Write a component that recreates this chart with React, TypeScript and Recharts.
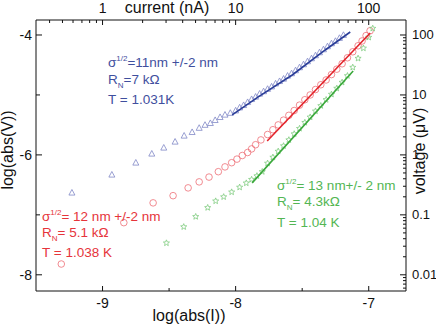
import React from "react";
import { ComposedChart, Scatter, XAxis, YAxis } from "recharts";

// all values are log10 of current (A) and voltage (V)
const blueTriangles: [number, number][] = [
  [-9.23, -6.63], [-8.93, -6.33], [-8.75, -6.13], [-8.63, -5.98], [-8.54, -5.88],
  [-8.455, -5.78], [-8.387, -5.68], [-8.327, -5.62], [-8.274, -5.55], [-8.23, -5.5],
  [-8.19, -5.47], [-8.154, -5.42], [-8.117, -5.37], [-8.08, -5.33], [-8.04, -5.3],
  [-8.0, -5.26], [-7.97, -5.21], [-7.94, -5.17], [-7.91, -5.12], [-7.88, -5.07],
  [-7.85, -5.03], [-7.82, -4.98], [-7.79, -4.94], [-7.76, -4.9], [-7.73, -4.86],
  [-7.7, -4.81], [-7.67, -4.77], [-7.64, -4.73], [-7.61, -4.68], [-7.58, -4.64],
  [-7.55, -4.59], [-7.52, -4.54], [-7.49, -4.49], [-7.46, -4.44], [-7.43, -4.39],
  [-7.4, -4.34], [-7.37, -4.29], [-7.34, -4.24], [-7.31, -4.19], [-7.28, -4.14],
  [-7.25, -4.1], [-7.22, -4.05], [-7.19, -4.0],
];
const blueFit: [number, number][] = [
  [-8.026, -5.333], [-7.83, -5.033], [-7.575, -4.667], [-7.327, -4.25], [-7.139, -3.95],
];

const redCircles: [number, number][] = [
  [-9.31, -7.82], [-8.84, -7.13], [-8.62, -6.8], [-8.47, -6.68], [-8.357, -6.55],
  [-8.274, -6.45], [-8.2, -6.37], [-8.13, -6.28], [-8.08, -6.2], [-8.03, -6.13],
  [-7.99, -6.07], [-7.95, -6.01], [-7.91, -5.96], [-7.88, -5.9], [-7.85, -5.83],
  [-7.81, -5.75], [-7.76, -5.66], [-7.72, -5.58], [-7.68, -5.5], [-7.64, -5.42],
  [-7.6, -5.34], [-7.56, -5.26], [-7.52, -5.17], [-7.48, -5.08], [-7.44, -5.0],
  [-7.4, -4.91], [-7.36, -4.83], [-7.32, -4.75], [-7.28, -4.66], [-7.24, -4.57],
  [-7.2, -4.48], [-7.16, -4.38], [-7.12, -4.28], [-7.08, -4.18], [-7.05, -4.1],
  [-7.02, -4.01], [-6.99, -3.93],
];
const redFit: [number, number][] = [[-7.763, -5.767], [-6.989, -3.967]];

const greenStars: [number, number][] = [
  [-8.52, -7.47], [-8.39, -7.2], [-8.3, -7.03], [-8.21, -6.88], [-8.15, -6.77],
  [-8.09, -6.7], [-8.03, -6.62], [-7.97, -6.54], [-7.92, -6.47], [-7.88, -6.41],
  [-7.84, -6.35], [-7.8, -6.28], [-7.76, -6.14], [-7.72, -6.04], [-7.68, -5.94],
  [-7.64, -5.85], [-7.6, -5.75], [-7.56, -5.65], [-7.52, -5.56], [-7.48, -5.46],
  [-7.44, -5.37], [-7.4, -5.27], [-7.36, -5.18], [-7.32, -5.08], [-7.28, -4.99],
  [-7.24, -4.89], [-7.2, -4.79], [-7.16, -4.68], [-7.12, -4.54], [-7.08, -4.39],
  [-7.04, -4.22], [-7.0, -4.04], [-6.97, -3.89],
];
const greenFit: [number, number][] = [[-7.876, -6.467], [-7.117, -4.6]];

// axis ticks
const bottomTicks = [-9, -8.5, -8, -7.5, -7];
const leftTicks = [-8, -7, -6, -5, -4];
const leftLabels = ["-8", "", "-6", "", "-4"];
const currentTicksNA = [
  0.4, 0.5, 0.6, 0.7, 0.8, 0.9, 1, 2, 3, 4, 5, 6, 7, 8, 9, 10,
  20, 30, 40, 50, 60, 70, 80, 90, 100,
];
const currentLabels = ["1", "10", "100"];
const voltageTicksUV = [
  0.006, 0.007, 0.008, 0.009, 0.01, 0.02, 0.03, 0.04, 0.05, 0.06, 0.07, 0.08, 0.09,
  0.1, 0.2, 0.3, 0.4, 0.5, 0.6, 0.7, 0.8, 0.9, 1, 2, 3, 4, 5, 6, 7, 8, 9, 10,
  20, 30, 40, 50, 60, 70, 80, 90, 100,
];
const voltageLabels = ["0.01", "0.1", "1", "10", "100"];

const FONT = "'Liberation Sans', Arial, sans-serif";
const INK = "#111";
const X_DOMAIN: [number, number] = [-9.5, -6.72];
const Y_DOMAIN: [number, number] = [-8.27, -3.75];
const TOP_H = 20;

const toPoints = (rows: [number, number][]) => rows.map(([x, y]) => ({ x, y }));

const isDecade = (v: number) => Math.abs(v - Math.round(v)) < 1e-6;
const decadeLabel = (v: number, labels: string[], start: number) =>
  labels[Math.round(v) - start];

function BottomTick({ x, y, payload }: any) {
  const major = isDecade(payload.value);
  return (
    <g>
      <line x1={x} y1={y} x2={x} y2={y - (major ? 5 : 3)} stroke={INK} />
      {major && (
        <text x={x} y={y + 17} textAnchor="middle" fontSize={14} fontFamily={FONT} fill={INK}>
          {payload.value}
        </text>
      )}
    </g>
  );
}

function LeftTick({ x, y, payload }: any) {
  const label = leftLabels[leftTicks.findIndex((t) => Math.abs(t - payload.value) < 1e-6)];
  return (
    <g>
      <line x1={x} y1={y} x2={x + (label ? 6 : 4)} y2={y} stroke={INK} />
      {label && (
        <text x={x - 4} y={y + 5} textAnchor="end" fontSize={14} fontFamily={FONT} fill={INK}>
          {label}
        </text>
      )}
    </g>
  );
}

function TopTick({ x, payload }: any) {
  const major = isDecade(payload.value);
  const y = TOP_H;
  return (
    <g>
      <line x1={x} y1={y} x2={x} y2={y + (major ? 5 : 3)} stroke={INK} />
      {major && (
        <text x={x} y={y - 7} textAnchor="middle" fontSize={14} fontFamily={FONT} fill={INK}>
          {decadeLabel(payload.value, currentLabels, -9)}
        </text>
      )}
    </g>
  );
}

function RightTick({ x, y, payload }: any) {
  const major = isDecade(payload.value);
  return (
    <g>
      <line x1={x} y1={y} x2={x - (major ? 6 : 3)} y2={y} stroke={INK} />
      {major && (
        <text x={x + 6} y={y + 4} textAnchor="start" fontSize={13} fontFamily={FONT} fill={INK}>
          {decadeLabel(payload.value, voltageLabels, -8)}
        </text>
      )}
    </g>
  );
}

function TriangleMark({ cx, cy }: any) {
  return (
    <polygon
      points={`${cx},${cy - 3.2} ${cx - 3},${cy + 2.4} ${cx + 3},${cy + 2.4}`}
      fill="none"
      stroke="#8088c6"
      strokeWidth={0.8}
    />
  );
}

function CircleMark({ cx, cy }: any) {
  return <circle cx={cx} cy={cy} r={3.3} fill="none" stroke="#ee6e76" strokeWidth={0.8} />;
}

function StarMark({ cx, cy }: any) {
  const pts: string[] = [];
  for (let i = 0; i < 10; i++) {
    const r = i % 2 === 0 ? 3.2 : 1.4;
    const a = -Math.PI / 2 + (i * Math.PI) / 5;
    pts.push(`${cx + r * Math.cos(a)},${cy + r * Math.sin(a)}`);
  }
  return <polygon points={pts.join(" ")} fill="none" stroke="#7fcb7f" strokeWidth={0.8} />;
}

const noMark = () => <g />;

function Sup({ children }: { children: React.ReactNode }) {
  return <span style={{ fontSize: 8, position: "relative", top: -6 }}>{children}</span>;
}

function Sub({ children }: { children: React.ReactNode }) {
  return <span style={{ fontSize: 8, position: "relative", top: 4 }}>{children}</span>;
}

function Note({ x, top, color, children }: any) {
  return (
    <div
      style={{
        position: "absolute",
        left: x,
        top,
        color,
        fontSize: 13.5,
        lineHeight: "16px",
        fontFamily: FONT,
        whiteSpace: "nowrap",
      }}
    >
      {children}
    </div>
  );
}

const BLUE_TEXT = "#3f4f9e";
const RED_TEXT = "#e6343b";
const GREEN_TEXT = "#53b653";

export default function App() {
  const topTicks = currentTicksNA.map((v) => Math.log10(v) - 9);
  const rightTicks = voltageTicksUV.map((v) => Math.log10(v) - 6);

  return (
    <div style={{ position: "absolute", left: 0, top: 0, width: 436, height: 324, background: "#fff", fontFamily: FONT, color: INK }}>
      <ComposedChart width={436} height={324} margin={{ top: 0, right: 0, bottom: 0, left: 0 }}>
        <XAxis
          xAxisId="bottom"
          dataKey="x"
          type="number"
          domain={X_DOMAIN}
          allowDataOverflow
          ticks={bottomTicks}
          interval={0}
          height={33}
          tickSize={0}
          tickMargin={0}
          tickLine={false}
          tick={BottomTick}
          axisLine={{ stroke: INK }}
        />
        <XAxis
          xAxisId="top"
          dataKey="x"
          orientation="top"
          type="number"
          domain={X_DOMAIN}
          allowDataOverflow
          ticks={topTicks}
          interval={0}
          height={TOP_H}
          tickSize={0}
          tickMargin={0}
          tickLine={false}
          tick={TopTick}
          axisLine={{ stroke: INK }}
        />
        <YAxis
          yAxisId="left"
          dataKey="y"
          type="number"
          domain={Y_DOMAIN}
          allowDataOverflow
          ticks={leftTicks}
          interval={0}
          width={36}
          tickSize={0}
          tickMargin={0}
          tickLine={false}
          tick={LeftTick}
          axisLine={{ stroke: INK }}
        />
        <YAxis
          yAxisId="right"
          dataKey="y"
          orientation="right"
          type="number"
          domain={Y_DOMAIN}
          allowDataOverflow
          ticks={rightTicks}
          interval={0}
          width={30}
          tickSize={0}
          tickMargin={0}
          tickLine={false}
          tick={RightTick}
          axisLine={{ stroke: INK }}
        />
        <Scatter xAxisId="bottom" yAxisId="left" data={toPoints(blueTriangles)} shape={TriangleMark} isAnimationActive={false} />
        <Scatter xAxisId="bottom" yAxisId="left" data={toPoints(redCircles)} shape={CircleMark} isAnimationActive={false} />
        <Scatter xAxisId="bottom" yAxisId="left" data={toPoints(greenStars)} shape={StarMark} isAnimationActive={false} />
        {/* the top current axis and right voltage axis share the same log scale */}
        <Scatter xAxisId="top" yAxisId="right" data={toPoints(redFit)} shape={noMark} isAnimationActive={false} />
        <Scatter
          xAxisId="bottom"
          yAxisId="left"
          data={toPoints(blueFit)}
          line={{ stroke: "#2a3d98", strokeWidth: 1.6 }}
          lineType="joint"
          shape={noMark}
          isAnimationActive={false}
        />
        <Scatter
          xAxisId="bottom"
          yAxisId="left"
          data={toPoints(redFit)}
          line={{ stroke: "#e3242b", strokeWidth: 1.6 }}
          lineType="joint"
          shape={noMark}
          isAnimationActive={false}
        />
        <Scatter
          xAxisId="bottom"
          yAxisId="left"
          data={toPoints(greenFit)}
          line={{ stroke: "#39a83a", strokeWidth: 1.6 }}
          lineType="joint"
          shape={noMark}
          isAnimationActive={false}
        />
      </ComposedChart>

      {/* axis titles */}
      <div style={{ position: "absolute", left: 123, top: 0, width: 88, textAlign: "center", fontSize: 16, lineHeight: "15px", whiteSpace: "nowrap" }}>
        current (nA)
      </div>
      <div style={{ position: "absolute", left: 129, top: 308, width: 120, textAlign: "center", fontSize: 16, lineHeight: "16px", whiteSpace: "nowrap" }}>
        log(abs(I))
      </div>
      <div style={{ position: "absolute", left: 8 - 60, top: 150 - 9, width: 120, height: 18, textAlign: "center", fontSize: 16, lineHeight: "18px", whiteSpace: "nowrap", transform: "rotate(-90deg)" }}>
        log(abs(V))
      </div>
      <div style={{ position: "absolute", left: 420 - 60, top: 151 - 9, width: 120, height: 18, textAlign: "center", fontSize: 16, lineHeight: "18px", whiteSpace: "nowrap", transform: "rotate(-90deg)" }}>
        voltage (μV)
      </div>

      {/* blue annotation */}
      <Note x={108} top={55} color={BLUE_TEXT}>
        σ<Sup>1/2</Sup>=11nm +/-2 nm
      </Note>
      <Note x={108} top={72} color={BLUE_TEXT}>
        R<Sub>N</Sub>=7 kΩ
      </Note>
      <Note x={108} top={92} color={BLUE_TEXT}>
        T = 1.031K
      </Note>

      {/* red annotation */}
      <Note x={42} top={209} color={RED_TEXT}>
        σ<Sup>1/2</Sup>= 12 nm +/-2 nm
      </Note>
      <Note x={42} top={225} color={RED_TEXT}>
        R<Sub>N</Sub>= 5.1 kΩ
      </Note>
      <Note x={42} top={245} color={RED_TEXT}>
        T = 1.038 K
      </Note>

      {/* green annotation */}
      <Note x={277} top={178} color={GREEN_TEXT}>
        σ<Sup>1/2</Sup>= 13 nm+/- 2 nm
      </Note>
      <Note x={277} top={194} color={GREEN_TEXT}>
        R<Sub>N</Sub>= 4.3kΩ
      </Note>
      <Note x={277} top={215} color={GREEN_TEXT}>
        T = 1.04 K
      </Note>
    </div>
  );
}
